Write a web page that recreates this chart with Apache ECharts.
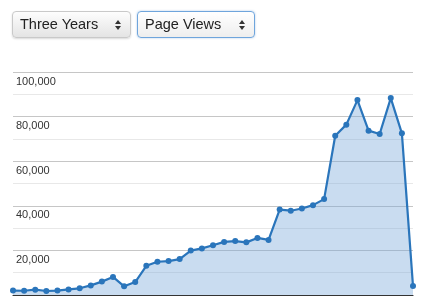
<!DOCTYPE html>
<html>
<head>
<meta charset="utf-8">
<script src="https://cdn.jsdelivr.net/npm/echarts@6/dist/echarts.min.js"></script>
<style>
  html, body { margin: 0; padding: 0; background: #fff; }
  #wrap { position: relative; width: 427px; height: 303px; overflow: hidden; }
  #chart { position: absolute; left: 0; top: 0; width: 427px; height: 303px; }
  .sel {
    position: absolute; top: 11px; height: 27px; box-sizing: border-box;
    border: 1px solid #c9c9c9; border-radius: 4px;
    background: linear-gradient(#fdfdfd, #e4e4e4);
    box-shadow: 0 1px 2px rgba(0,0,0,0.15);
    font-family: "Liberation Sans", Arial, sans-serif; font-size: 14.5px; color: #222;
    line-height: 25px; padding-left: 7px; z-index: 2;
  }
  .sel.focus { border: 1px solid #6fa5dc; box-shadow: 0 0 2px rgba(80,140,210,0.5); background: linear-gradient(#ffffff, #eeeeee); }
  .arr { position: absolute; right: 8px; top: 8px; width: 0; height: 0; }
  .arr:before { content: ""; position: absolute; left: 0; top: 0; border-left: 3.5px solid transparent; border-right: 3.5px solid transparent; border-bottom: 4px solid #333; }
  .arr:after { content: ""; position: absolute; left: 0; top: 6px; border-left: 3.5px solid transparent; border-right: 3.5px solid transparent; border-top: 4px solid #333; }
</style>
</head>
<body>
<div id="wrap">
  <div class="sel" style="left:12px;width:119px;">Three Years<span class="arr" style="right:15px"></span></div>
  <div class="sel focus" style="left:137px;width:118px;">Page Views<span class="arr" style="right:15px"></span></div>
  <div id="chart"></div>
</div>
<script>
// months over three years (37 points)
const categories = [
  'M01','M02','M03','M04','M05','M06','M07','M08','M09','M10','M11','M12',
  'M13','M14','M15','M16','M17','M18','M19','M20','M21','M22','M23','M24',
  'M25','M26','M27','M28','M29','M30','M31','M32','M33','M34','M35','M36','M37'
];
const pageViews = [
  2000, 1900, 2400, 1800, 2000, 2500, 3000, 4300, 6000, 8100, 3900, 5800,
  13100, 14900, 15200, 16100, 19900, 20900, 22300, 23800, 24200, 23600, 25600, 24700,
  38300, 37800, 38800, 40300, 43000, 71400, 76400, 87400, 73700, 72200, 88300, 72500,
  4000
];
const yTicks = { min: 0, max: 100000, interval: 20000 };

const chart = echarts.init(document.getElementById('chart'), null, { renderer: 'canvas' });
chart.setOption({
  animation: false,
  grid: { left: 13, right: 14, top: 72, bottom: 8, containLabel: false },
  xAxis: {
    type: 'category',
    data: categories,
    boundaryGap: false,
    axisLine: { show: true, lineStyle: { color: '#333', width: 1.2 } },
    axisTick: { show: false },
    axisLabel: { show: false },
    splitLine: { show: false }
  },
  yAxis: {
    type: 'value',
    min: yTicks.min, max: yTicks.max, interval: yTicks.interval,
    axisLine: { show: false },
    axisTick: { show: false },
    axisLabel: {
      inside: true,
      margin: 3,
      verticalAlign: 'top',
      padding: [4, 0, 0, 0],
      color: '#333',
      fontSize: 11,
      fontFamily: 'Liberation Sans, Arial, sans-serif',
      formatter: function (v) { return v === 0 ? '' : v.toLocaleString('en-US'); }
    },
    splitLine: { show: true, lineStyle: { color: '#c6c6c6', width: 1 } },
    minorTick: { show: false, splitNumber: 2 },
    minorSplitLine: { show: true, lineStyle: { color: '#e8e8e8', width: 1 } }
  },
  series: [{
    type: 'line',
    data: pageViews,
    symbol: 'circle',
    symbolSize: 6,
    showSymbol: true,
    lineStyle: { color: '#2a75bb', width: 2.2 },
    itemStyle: { color: '#2a75bb' },
    areaStyle: { color: 'rgba(115,165,215,0.55)' }
  }]
});
</script>
</body>
</html>
